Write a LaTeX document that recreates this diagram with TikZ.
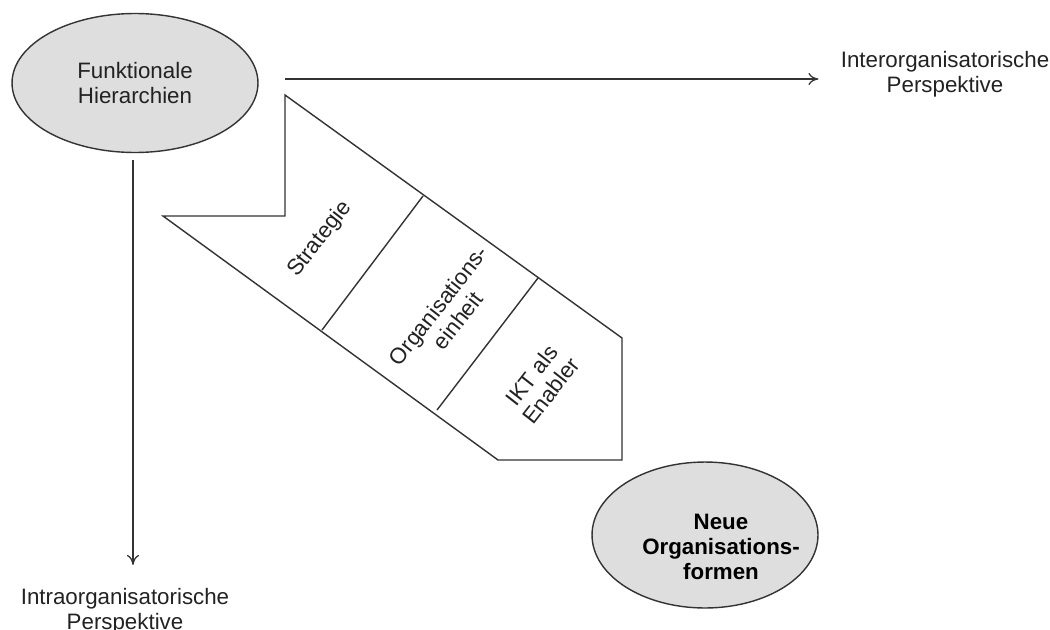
\documentclass[tikz,border=0pt]{standalone}
\usepackage{fontspec}
\setmainfont{Liberation Sans}
\usepackage{tikz}
\usetikzlibrary{calc,positioning,arrows.meta,shapes.geometric}
\definecolor{ink}{HTML}{222222}
\definecolor{rim}{HTML}{333333}
\definecolor{oval}{HTML}{DEDEDE}
\tikzset{
  blob/.style={ellipse,draw=rim,fill=oval,line width=0.8pt,inner sep=0pt,align=center,
    font=\fontsize{12.7}{14}\selectfont,text=ink},
  lbl/.style={inner sep=0pt,align=center,font=\fontsize{12.7}{14}\selectfont,text=ink},
  stage/.style={lbl,rotate=52},
  pfeil/.style={-{To[length=2mm,width=2.4mm]},rim,line width=0.7pt},
}

\begin{document}
\begin{tikzpicture}[x=0.02cm,y=-0.02cm]
\useasboundingbox (0,0) rectangle (1050,629);
\node[blob,minimum width=4.92cm,minimum height=2.78cm] (fh) at (135,83)
  {Funktionale\\Hierarchien};
\node[blob,minimum width=4.52cm,minimum height=2.92cm,
  label={[lbl,font=\fontsize{12.7}{14}\selectfont\bfseries,text=black,xshift=0.32cm,yshift=-0.24cm]center:Neue\\Organisations-\\formen}] (nof) at (705,535) {};
\node[lbl] (inter) at (945,74) {Interorganisatorische\\Perspektive};
\node[lbl] (intra) at (125,611) {Intraorganisatorische\\Perspektive};
% Pfeil mit drei Feldern
\draw[rim,line width=0.8pt,fill=white] (285,95) -- (285,216) -- (163,216) -- (498,460)
  -- (622,460) -- (622,338) -- cycle;
\draw[rim,line width=0.8pt] (423,196) -- (322,330);
\draw[rim,line width=0.8pt] (538,278) -- (437,410);
\node[stage] (strat) at (320,239) {Strategie};
\node[stage] (orgeh) at (448,313) {Organisations-\\einheit};
\node[stage] (ikt) at (541,383) {IKT als\\Enabler};
% Achsen
\coordinate (hstart) at (285,79);
\coordinate (vstart) at (133,160);
\draw[pfeil,shorten >=0.44cm] (hstart) -- (hstart -| inter.west);
\draw[pfeil,shorten >=0.46cm] (vstart) -- (vstart |- intra.north);
\end{tikzpicture}
\end{document}
